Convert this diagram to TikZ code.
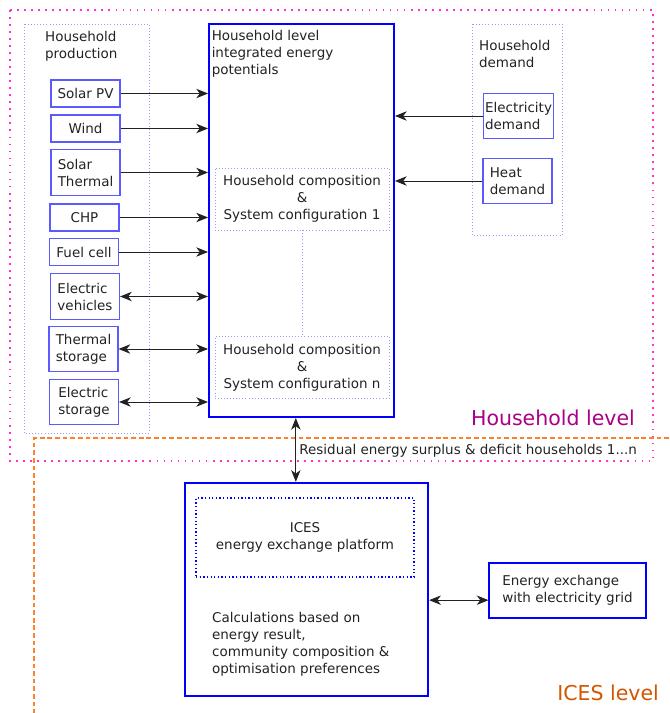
\documentclass[tikz,border=0pt]{standalone}
\usepackage{fontspec}
\setmainfont{DejaVu Sans}
\usetikzlibrary{arrows.meta}

\definecolor{boxblue}{HTML}{0000FF}
\definecolor{itemblue}{HTML}{5A5AFF}
\definecolor{dotblue}{HTML}{9A9AFF}
\definecolor{hhpink}{HTML}{FF33CC}
\definecolor{icesorange}{HTML}{FF7F2A}
\definecolor{hhlabel}{HTML}{AA0088}
\definecolor{iceslabel}{HTML}{D45500}
\definecolor{textgray}{HTML}{222222}

\tikzset{
  item/.style={draw=itemblue, line width=0.9pt, minimum width=2.07cm, minimum height=0.81cm, align=left, inner sep=1pt},
  item2/.style={item, minimum height=1.37cm},
  group/.style={draw=dotblue, dotted, line width=0.6pt},
  conf/.style={group, minimum width=5.22cm, minimum height=1.86cm, align=center, inner sep=1pt},
  bigbox/.style={draw=boxblue, line width=1.7pt},
  flow/.style={-{Stealth[length=10pt,width=8pt,inset=3pt]}, line width=0.7pt, draw=textgray},
  both/.style={{Stealth[length=10pt,width=8pt,inset=3pt]}-{Stealth[length=10pt,width=8pt,inset=3pt]}, line width=0.7pt, draw=textgray},
  levellabel/.style={anchor=base east, font=\fontsize{17.5}{20}\selectfont}
}

\begin{document}
\begin{tikzpicture}[x=0.03cm,y=-0.03cm,font=\fontsize{11.5}{14.5}\selectfont,text=textgray]

    \useasboundingbox (0,0) rectangle (669,713);

    % draw the two level frames
    \draw [hhpink, line width=1.3pt, dash pattern=on 1.5pt off 4.5pt] (10,10) rectangle (653,461);
    \draw [icesorange, line width=1pt, dash pattern=on 4pt off 2.5pt] (669,438) -- (34,438) -- (34,713);

    % household production
    \draw [group] (24,24) rectangle (149,433);
    \node [anchor=north west, align=left] (prodtitle) at (41,27) {Household\\production};
    \foreach \n/\x/\y/\s/\t in {pv/85.5/93.5/item/{Solar PV}, wind/85.5/128.5/item/Wind,
        sth/85.5/172.5/item2/{Solar\\Thermal}, chp/84.5/217.5/item/CHP, fuel/84/252/item/{Fuel cell},
        ev/85/296.5/item2/{Electric\\vehicles}, tst/83.5/349/item2/{Thermal\\storage},
        est/84/402/item2/{Electric\\storage}}
      \node [\s] (\n) at (\x,\y) {\t};

    % household level box
    \node [bigbox, minimum width=5.55cm, minimum height=11.79cm] (hh) at (301.5,220.5) {};
    \node [anchor=north west, align=left, inner sep=1pt] (hhtitle) at ([shift={(2pt,-5pt)}]hh.north west) {Household level\\integrated energy\\potentials};
    \node [conf] (conf1) at (302,199) {Household composition\\\&\\System configuration 1};
    \node [conf] (confn) at (302,367.5) {Household composition\\\&\\System configuration n};
    \draw [group] (conf1) -- (confn);

    % production arrows
    \foreach \n in {pv,wind,sth,chp,fuel}
      \draw [flow] (\n) -- (\n -| hh.west);
    \foreach \n in {ev,tst,est}
      \draw [both] (\n) -- (\n -| hh.west);

    % household demand
    \draw [group] (472,24) rectangle (562,235);
    \node [anchor=north west, align=left] (demtitle) at (475,36) {Household\\demand};
    \node [item2] (eld) at (518.5,116) {Electricity\\demand};
    \node [item2] (htd) at (517.5,181) {Heat\\demand};
    \draw [flow] (eld) -- (eld -| hh.east);
    \draw [flow] (htd) -- (htd -| hh.east);

    % ICES level
    \node [bigbox, line width=2pt, minimum width=7.29cm, minimum height=6.39cm] (ices) at (306.5,589.5) {};
    \node [draw=boxblue, dotted, line width=1.1pt, minimum width=6.54cm, minimum height=2.37cm, align=center] (platform) at (305,537.5) {ICES\\energy exchange platform};
    \node [anchor=north west, align=left] (calc) at (208,608) {Calculations based on\\energy result,\\community composition \&\\optimisation preferences};
    \node [item, draw=boxblue, minimum width=4.71cm, minimum height=1.65cm] (grid) at (567.5,590.5) {Energy exchange\\with electricity grid};
    \draw [both] ([yshift=-0.29cm]grid.west) -- ([yshift=-0.29cm]grid.west -| ices.east);

    % exchange between the levels
    \draw [both] ([xshift=-0.17cm]hh.south) -- ([xshift=-0.17cm]hh.south |- ices.north);
    \node [anchor=west, inner sep=1pt] (resid) at (298,451) {Residual energy surplus \& deficit households 1...n};

    % level labels
    \node [levellabel, text=hhlabel] (hhlevel) at (639,425) {Household level};
    \node [levellabel, text=iceslabel] (iceslevel) at (663,700) {ICES level};

\end{tikzpicture}
\end{document}
